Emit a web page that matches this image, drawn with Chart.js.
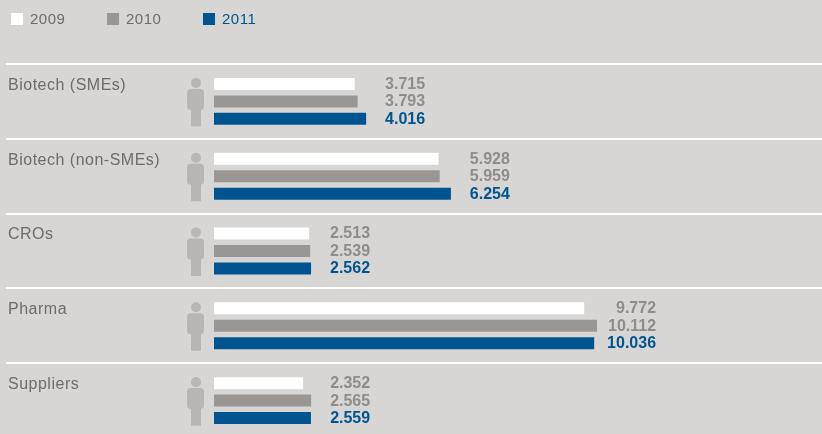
<!DOCTYPE html>
<html>
<head>
<meta charset="utf-8">
<style>
    html, body { margin: 0; padding: 0; height: 434px; overflow: hidden; background: #d7d6d5; }
    canvas { display: block; }
</style>
<script src="https://cdn.jsdelivr.net/npm/chart.js@4"></script>
</head>
<body>
<canvas id="graphic" width="822" height="440"></canvas>
<script>
const categories = ['Biotech (SMEs)', 'Biotech (non-SMEs)', 'CROs', 'Pharma', 'Suppliers'];
const years = ['2009', '2010', '2011'];
const values2009 = [3.715, 5.928, 2.513, 9.772, 2.352];
const values2010 = [3.793, 5.959, 2.539, 10.112, 2.565];
const values2011 = [4.016, 6.254, 2.562, 10.036, 2.559];

const barColors = ['#ffffff', '#9a9693', '#00548f'];
const labelColors = ['#8f8c8a', '#8f8c8a', '#00548f'];
const legendTextColors = ['#6f6b6a', '#6f6b6a', '#00548f'];
const legendX = [11, 107, 203];
const fontFamily = '"Liberation Sans", Arial, sans-serif';

// legend, person icons and value labels
const extras = {
    id: 'extras',
    beforeDraw(chart) {
        // the original type is tracked wider than Liberation
        chart.ctx.letterSpacing = '0.5px';
    },
    beforeDatasetsDraw(chart) {
        const ctx = chart.ctx;
        const yScale = chart.scales.y;
        ctx.save();
        ctx.fillStyle = '#b8b5b4';
        categories.forEach((cat, i) => {
            const cy = yScale.getPixelForValue(i);
            ctx.beginPath();
            ctx.arc(196, cy - 18.5, 5, 0, Math.PI * 2);
            ctx.fill();
            ctx.beginPath();
            ctx.roundRect(187, cy - 12.5, 17, 21, 4);
            ctx.fill();
            ctx.fillRect(191, cy + 5, 10, 20);
        });
        ctx.restore();
    },
    afterDatasetsDraw(chart) {
        const ctx = chart.ctx;
        ctx.save();
        ctx.textBaseline = 'middle';

        years.forEach((year, d) => {
            ctx.fillStyle = barColors[d];
            ctx.fillRect(legendX[d], 13, 12, 12);
            ctx.fillStyle = legendTextColors[d];
            ctx.font = '15px ' + fontFamily;
            ctx.textAlign = 'left';
            ctx.fillText(year, legendX[d] + 19, 19.5);
        });

        ctx.letterSpacing = '0px';
        categories.forEach((cat, i) => {
            const bars = years.map((y, d) => chart.getDatasetMeta(d).data[i]);
            const right = Math.max(...bars.map((b) => b.x)) + 59;
            bars.forEach((bar, d) => {
                const ds = chart.data.datasets[d];
                ctx.fillStyle = labelColors[d];
                ctx.font = 'bold 16px ' + fontFamily;
                ctx.textAlign = 'right';
                ctx.fillText(ds.data[i].toFixed(3), right, bar.y + 0.5);
            });
        });
        ctx.restore();
    }
};

new Chart(document.getElementById('graphic'), {
    type: 'bar',
    data: {
        labels: categories,
        datasets: [
            { label: years[0], data: values2009, backgroundColor: barColors[0] },
            { label: years[1], data: values2010, backgroundColor: barColors[1] },
            { label: years[2], data: values2011, backgroundColor: barColors[2] }
        ]
    },
    options: {
        indexAxis: 'y',
        responsive: false,
        animation: false,
        layout: { padding: { left: 8, top: 64, bottom: 2, right: 0 } },
        datasets: { bar: { categoryPercentage: 0.7, barPercentage: 0.688 } },
        plugins: { legend: { display: false }, tooltip: { enabled: false } },
        scales: {
            x: { display: false, min: 0, max: 16.05 },
            y: {
                afterFit(scale) {
                    scale.width = 206;
                    scale.paddingTop = 0;
                    scale.paddingBottom = 0;
                },
                border: { display: false },
                grid: { color: '#ffffff', lineWidth: 2, tickLength: 208 },
                ticks: {
                    autoSkip: false,
                    crossAlign: 'far',
                    labelOffset: -16,
                    color: '#6f6b6a',
                    font: { family: fontFamily, size: 16 }
                }
            }
        }
    },
    plugins: [extras]
});
</script>
</body>
</html>
